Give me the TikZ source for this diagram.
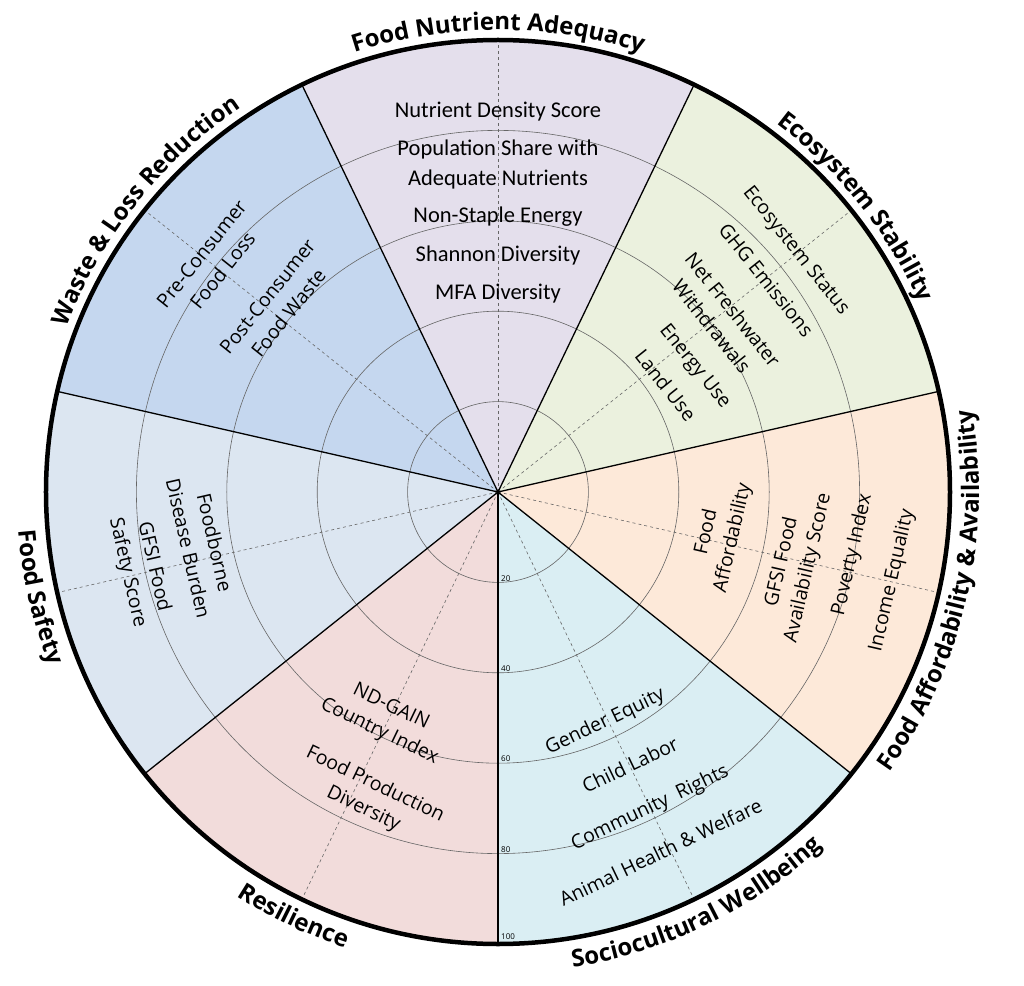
\documentclass[tikz,border=0pt]{standalone}
\usepackage{fontspec}
\setmainfont{Open Sans}
\newfontfamily\calf{Carlito}
\usetikzlibrary{decorations.text}
\definecolor{cnutr}{HTML}{E4DFEC}
\definecolor{cwaste}{HTML}{C5D7EF}
\definecolor{ceco}{HTML}{EBF1DE}
\definecolor{caff}{HTML}{FDE9D9}
\definecolor{csoc}{HTML}{DAEEF3}
\definecolor{cres}{HTML}{F2DCDB}
\definecolor{csaf}{HTML}{DCE6F1}
\newcommand{\titlef}{\fontsize{24}{28}\bfseries\selectfont}
\begin{document}
\begin{tikzpicture}[x=1pt,y=1pt,
  ind/.style={font=\fontsize{19.5}{27}\selectfont, align=center, inner sep=0pt},
  indn/.style={font=\calf\fontsize{22.5}{30}\selectfont, align=center, inner sep=0pt},
  ringline/.style={gray!80!black, line width=0.6pt},
  midline/.style={gray!80!black, dashed, line width=0.6pt},
  bound/.style={black, line width=1.3pt},
  ticklab/.style={font=\fontsize{8}{9}\selectfont, anchor=south west, inner sep=1pt}]
\useasboundingbox (-498,-493) rectangle (526,492);
\def\R{452}
\coordinate (c) at (0,0);
% sectors
\foreach \a/\col in {12.86/ceco,64.29/cnutr,115.71/cwaste,167.14/csaf,218.57/cres,270/csoc,321.43/caff}{
  \fill[\col] (c) -- (\a:\R) arc[start angle=\a, end angle=\a+51.43, radius=\R] -- cycle;
}
% rings
\foreach \r in {90.4,180.8,271.2,361.6}{ \draw[ringline] (c) circle[radius=\r]; }
% mid dashed lines
\foreach \m in {38.57,90,141.43,192.86,244.29,295.71,347.14}{ \draw[midline] (c) -- (\m:\R); }
% boundaries
\foreach \a in {12.86,64.29,115.71,167.14,218.57,270,321.43}{ \draw[bound] (c) -- (\a:\R); }
\draw[black, line width=4.5pt] (c) circle[radius=\R];
% scale labels
\node[ticklab] (t20) at (2,-90.4) {20};
\node[ticklab] (t40) at (2,-180.8) {40};
\node[ticklab] (t60) at (2,-271.2) {60};
\node[ticklab] (t80) at (2,-361.6) {80};
\node[ticklab] (t100) at (2,-449) {100};
% Food Nutrient Adequacy
\node[indn] (n1) at (90:380) {Nutrient Density Score};
\node[indn] (n2) at (90:327) {Population Share with\\Adequate Nutrients};
\node[indn] (n3) at (90:275) {Non-Staple Energy};
\node[indn] (n4) at (90:236) {Shannon Diversity};
\node[indn] (n5) at (90:198) {MFA Diversity};
% Ecosystem
\node[ind,rotate=-51.4] (e1) at (39.0:383) {Ecosystem Status};
\node[ind,rotate=-51.4] (e2) at (38.3:342) {GHG Emissions};
\node[ind,rotate=-51.4] (e3) at (37.8:284) {Net Freshwater\\Withdrawals};
\node[ind,rotate=-51.4] (e4) at (32.5:233) {Energy Use};
\node[ind,rotate=-51.4] (e5) at (32.5:199) {Land Use};
% Affordability
\node[ind,rotate=77.1] (a1) at (-11:226) {Food\\Affordability};
\node[ind,rotate=77.1] (a2) at (-13.8:306) {GFSI Food\\Availability Score};
\node[ind,rotate=77.1] (a3) at (-10.1:360) {Poverty Index};
\node[ind,rotate=77.1] (a4) at (-12.7:404) {Income Equality};
% Sociocultural
\node[ind,rotate=25.7] (s1) at (-65:254) {Gender Equity};
\node[ind,rotate=25.7] (s2) at (-64.2:303) {Child Labor};
\node[ind,rotate=25.7] (s3) at (-64.3:351) {Community~ Rights};
\node[ind,rotate=25.7] (s4) at (-65.7:395) {Animal Health \& Welfare};
% Resilience
\node[ind,rotate=-25.7] (r1) at (-116.4:254) {ND-GAIN\\Country Index};
\node[ind,rotate=-25.7] (r2) at (-112.9:331) {Food Production\\Diversity};
% Food Safety
\node[ind,rotate=-77.1] (f1) at (-169.8:301) {Foodborne\\Disease Burden};
\node[ind,rotate=-77.1] (f2) at (-167.7:366) {GFSI Food\\Safety Score};
% Waste
\node[ind,rotate=51.4] (w1) at (141.2:367) {Pre-Consumer\\Food Loss};
\node[ind,rotate=51.4] (w2) at (139.6:289) {Post-Consumer\\Food Waste};
% titles (clockwise, upper)
\foreach \m/\txt in {90/{Food Nutrient Adequacy},38.57/{Ecosystem Stability},141.43/{Waste {\&} Loss Reduction}}{
  \path[decorate, decoration={text along path, text align=center, text={|\titlef|\txt}}]
    (\m+45:462) arc[start angle=\m+45, end angle=\m-45, radius=462];
}
% titles (counterclockwise, lower)
\foreach \m/\txt in {-12.86/{Food Affordability {\&} Availability},-64.29/{Sociocultural Wellbeing},-115.71/{Resilience},-167.14/{Food Safety}}{
  \path[decorate, decoration={text along path, text align=center, text={|\titlef|\txt}}]
    (\m-45:481) arc[start angle=\m-45, end angle=\m+45, radius=481];
}
\end{tikzpicture}
\end{document}
